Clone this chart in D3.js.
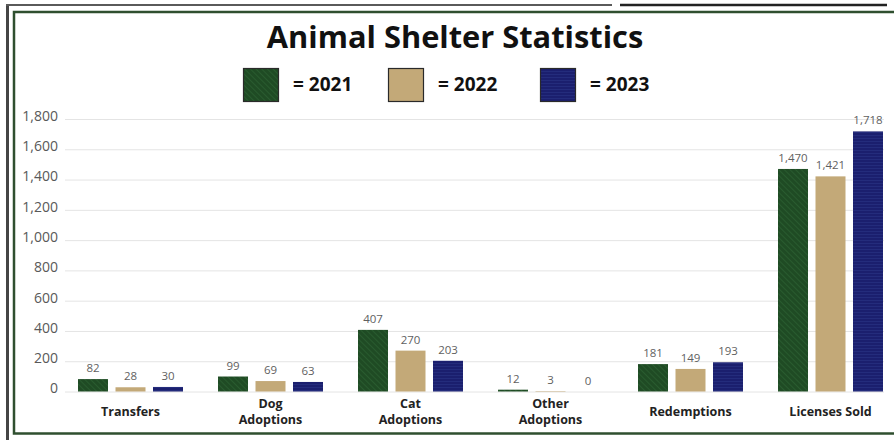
<!DOCTYPE html>
<html>
<head>
<meta charset="utf-8">
<script src="https://cdn.jsdelivr.net/npm/d3@7"></script>
<style>
  html, body { margin: 0; padding: 0; background: #fff; }
  svg { display: block; font-family: "Open Sans", sans-serif; }
</style>
</head>
<body>
<svg id="chart" width="894" height="440"></svg>
<script>
const categories = [["Transfers"], ["Dog", "Adoptions"], ["Cat", "Adoptions"], ["Other", "Adoptions"], ["Redemptions"], ["Licenses Sold"]];
const years = ["2021", "2022", "2023"];
const values2021 = [82, 99, 407, 12, 181, 1470];
const values2022 = [28, 69, 270, 3, 149, 1421];
const values2023 = [30, 63, 203, 0, 193, 1718];
const yTicks = [0, 200, 400, 600, 800, 1000, 1200, 1400, 1600, 1800];
const title = "Animal Shelter Statistics";

const seriesValues = [values2021, values2022, values2023];
const colors = ["#1f4b24", "#c3a978", "#1b1f6e"];
const lineColors = ["#2e6233", "#c9b083", "#27307f"];

const svg = d3.select("#chart");
const W = 894, H = 440;

// frame
svg.append("rect").attr("x", 0).attr("y", 0).attr("width", W).attr("height", H).attr("fill", "#fff");
svg.append("line").attr("x1", 7.5).attr("x2", 7.5).attr("y1", 4).attr("y2", 440).attr("stroke", "#454545").attr("stroke-width", 3);
svg.append("line").attr("x1", 6).attr("x2", 612).attr("y1", 5).attr("y2", 5).attr("stroke", "#5a5a5a").attr("stroke-width", 2);
svg.append("line").attr("x1", 620).attr("x2", 887).attr("y1", 5).attr("y2", 5).attr("stroke", "#222", ).attr("stroke-width", 2.5);
svg.append("path").attr("d", "M 900 12 H 14 V 433.5 H 900").attr("fill", "none").attr("stroke", "#2f4f2f").attr("stroke-width", 2.5);

// patterns
const defs = svg.append("defs");
const pg = defs.append("pattern").attr("id", "p0").attr("patternUnits", "userSpaceOnUse").attr("width", 4).attr("height", 4).attr("patternTransform", "rotate(-45)");
pg.append("rect").attr("width", 4).attr("height", 4).attr("fill", colors[0]);
pg.append("rect").attr("width", 1).attr("height", 4).attr("fill", lineColors[0]).attr("opacity", 0.7);
const pt = defs.append("pattern").attr("id", "p1").attr("patternUnits", "userSpaceOnUse").attr("width", 4).attr("height", 4);
pt.append("rect").attr("width", 4).attr("height", 4).attr("fill", colors[1]);
const pn = defs.append("pattern").attr("id", "p2").attr("patternUnits", "userSpaceOnUse").attr("width", 4).attr("height", 3);
pn.append("rect").attr("width", 4).attr("height", 3).attr("fill", colors[2]);
pn.append("rect").attr("width", 4).attr("height", 1).attr("fill", lineColors[2]).attr("opacity", 0.8);

// title
svg.append("text").attr("x", 455).attr("y", 48).attr("text-anchor", "middle")
  .attr("font-size", 30.8).attr("font-weight", 700).attr("fill", "#111").text(title);

// legend
const legendX = [243, 388, 540];
years.forEach((yr, i) => {
  const g = svg.append("g").attr("transform", `translate(${legendX[i]},68)`);
  g.append("rect").attr("x", 0.5).attr("y", 0.5).attr("width", 35).attr("height", 33)
    .attr("fill", `url(#p${i})`).attr("stroke", "#2a2a2a").attr("stroke-width", 1.2);
  g.append("text").attr("x", 50).attr("y", 23).attr("font-size", 19).attr("font-weight", 700)
    .attr("fill", "#111").text("= " + yr);
});

// scales
const x0 = d3.scaleBand().domain(d3.range(categories.length)).range([60.5, 900.5]).paddingInner(0.25).paddingOuter(0.125);
const x1 = d3.scaleBand().domain(d3.range(years.length)).range([0, x0.bandwidth()]).paddingInner(0.2).paddingOuter(0);
const y = d3.scaleLinear().domain([0, 1800]).range([391.5, 119]);

// grid
const yAxis = d3.axisLeft(y).tickValues(yTicks).tickSize(0).tickPadding(0).tickFormat(d3.format(","));
const ag = svg.append("g").attr("transform", "translate(58,0)").call(yAxis);
ag.select(".domain").remove();
ag.selectAll("text").attr("font-size", 14).attr("fill", "#595959").attr("font-family", "Open Sans, sans-serif").attr("dy", "0.1em");

svg.append("g").selectAll("line").data(yTicks).join("line")
  .attr("x1", 65).attr("x2", 884).attr("y1", d => y(d) + 0.5).attr("y2", d => y(d) + 0.5)
  .attr("stroke", "#e4e4e4").attr("stroke-width", 1);

// bars
const groups = svg.append("g").selectAll("g").data(categories).join("g")
  .attr("transform", (d, i) => `translate(${x0(i)},0)`);
groups.each(function(cat, ci) {
  const g = d3.select(this);
  years.forEach((yr, si) => {
    const v = seriesValues[si][ci];
    g.append("rect").attr("x", x1(si)).attr("width", x1.bandwidth())
      .attr("y", y(v)).attr("height", y(0) - y(v)).attr("fill", `url(#p${si})`);
    g.append("text").attr("x", x1(si) + x1.bandwidth() / 2).attr("y", y(v) - 7)
      .attr("text-anchor", "middle").attr("font-size", 11.5).attr("fill", "#5f5f5f")
      .text(d3.format(",")(v));
  });
  const lines = cat;
  const t = g.append("text").attr("text-anchor", "middle").attr("font-size", 12.5).attr("font-weight", 700).attr("fill", "#222");
  if (lines.length === 1) {
    t.append("tspan").attr("x", x0.bandwidth() / 2).attr("y", 415.5).text(lines[0]);
  } else {
    t.append("tspan").attr("x", x0.bandwidth() / 2).attr("y", 407.5).text(lines[0]);
    t.append("tspan").attr("x", x0.bandwidth() / 2).attr("y", 423.5).text(lines[1]);
  }
});
</script>
</body>
</html>
